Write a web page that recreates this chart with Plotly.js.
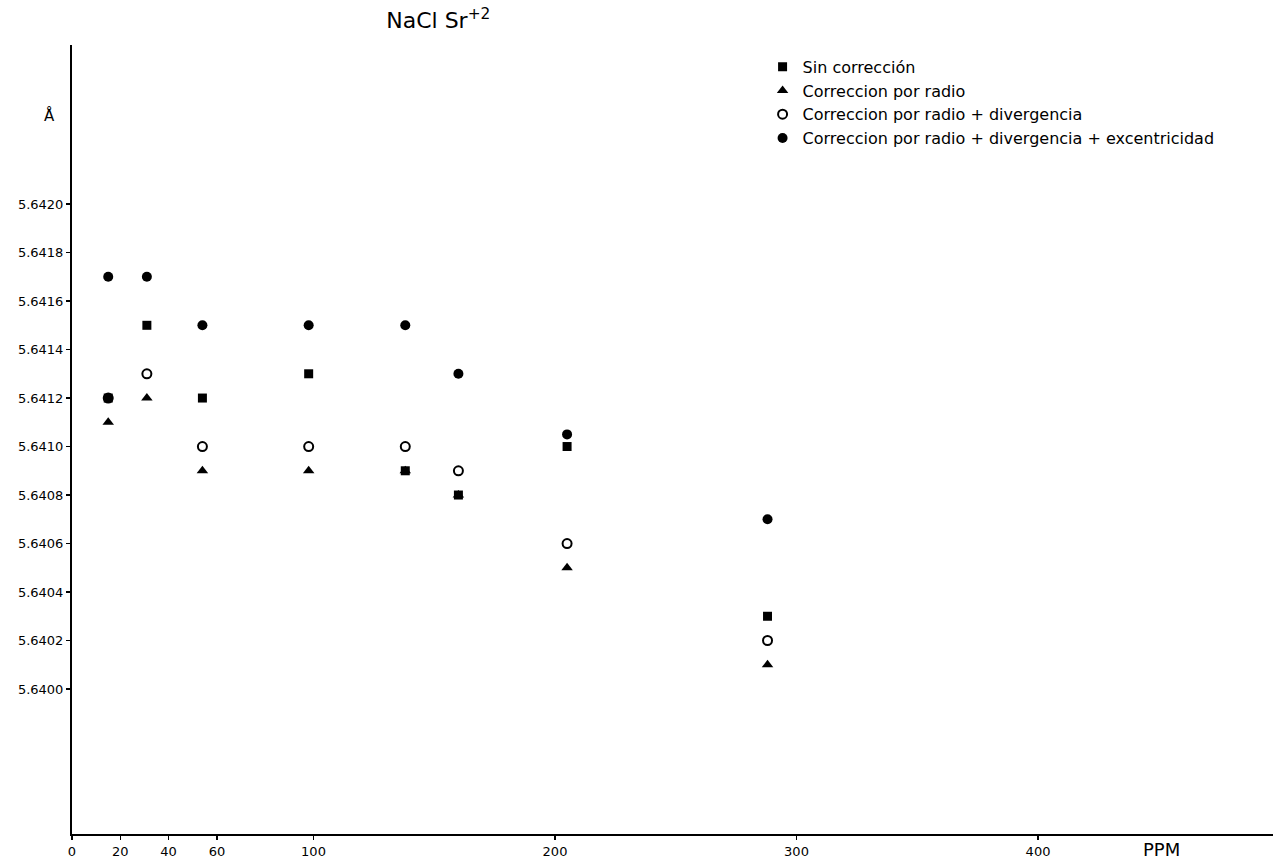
<!DOCTYPE html>
<html>
<head>
<meta charset="utf-8">
<script src="https://cdn.plot.ly/plotly-3.0.1.min.js"></script>
<style>
  html, body { margin: 0; padding: 0; background: #fff; }
  #chart { width: 1273px; height: 861px; }
</style>
</head>
<body>
<div id="chart"></div>
<script>
// Concentration of Sr+2 in NaCl (ppm)
const ppm = [15, 31, 54, 98, 138, 160, 205, 288];

// Lattice parameter (Å) for each correction stage
const sinCorreccion   = [5.6412, 5.6415, 5.6412, 5.6413, 5.6409, 5.6408, 5.6410, 5.6403];
const corrRadio       = [5.6411, 5.6412, 5.6409, 5.6409, 5.6409, 5.6408, 5.6405, 5.6401];
const corrRadioDiv    = [5.6412, 5.6413, 5.6410, 5.6410, 5.6410, 5.6409, 5.6406, 5.6402];
const corrRadioDivExc = [5.6417, 5.6417, 5.6415, 5.6415, 5.6415, 5.6413, 5.64105, 5.6407];

const seriesNames = [
  "Sin corrección",
  "Correccion por radio",
  "Correccion por radio + divergencia",
  "Correccion por radio + divergencia + excentricidad"
];

const xTickVals = [0, 20, 40, 60, 100, 200, 300, 400];
const xTickText = ["0", "20", "40", "60", "100", "200", "300", "400"];
const yTickVals = [5.6400, 5.6402, 5.6404, 5.6406, 5.6408, 5.6410, 5.6412, 5.6414, 5.6416, 5.6418, 5.6420];
const yTickText = ["5.6400", "5.6402", "5.6404", "5.6406", "5.6408", "5.6410", "5.6412", "5.6414", "5.6416", "5.6418", "5.6420"];

const markerStyles = [
  { symbol: "square", size: 9, color: "#000" },
  { symbol: "triangle-up", size: 10, color: "#000" },
  { symbol: "circle-open", size: 9, color: "#000", line: { width: 2, color: "#000" } },
  { symbol: "circle", size: 10, color: "#000" }
];

const seriesValues = [sinCorreccion, corrRadio, corrRadioDiv, corrRadioDivExc];

const traces = seriesValues.map((vals, i) => ({
  type: "scatter",
  mode: "markers",
  name: seriesNames[i],
  x: ppm,
  y: vals,
  marker: markerStyles[i],
  cliponaxis: false
}));

const font = "DejaVu Sans, Liberation Sans, sans-serif";

const layout = {
  width: 1273,
  height: 861,
  paper_bgcolor: "#fff",
  plot_bgcolor: "#fff",
  margin: { l: 72, r: 0, t: 45, b: 27 },
  font: { family: font, color: "#000", size: 12 },
  title: {
    text: "NaCl Sr<sup>+2</sup>",
    font: { family: font, size: 22, color: "#000" },
    xref: "paper",
    x: 0.305,
    xanchor: "center",
    yref: "container",
    y: 0.976,
    yanchor: "middle"
  },
  xaxis: {
    range: [0, 497.3],
    showgrid: false,
    zeroline: false,
    showline: true,
    linecolor: "#000",
    linewidth: 2,
    ticks: "outside",
    ticklen: 4,
    tickwidth: 1.5,
    tickcolor: "#000",
    tickmode: "array",
    tickvals: xTickVals,
    ticktext: xTickText,
    tickfont: { family: font, size: 13, color: "#000" }
  },
  yaxis: {
    range: [5.639402, 5.642656],
    showgrid: false,
    zeroline: false,
    showline: true,
    linecolor: "#000",
    linewidth: 2,
    ticks: "outside",
    ticklen: 4,
    tickwidth: 1.5,
    tickcolor: "#000",
    tickmode: "array",
    tickvals: yTickVals,
    ticktext: yTickText,
    tickfont: { family: font, size: 13, color: "#000" }
  },
  showlegend: true,
  legend: {
    x: 0.575,
    xanchor: "left",
    y: 0.994,
    yanchor: "top",
    yref: "paper",
    bgcolor: "rgba(0,0,0,0)",
    borderwidth: 0,
    tracegroupgap: 0,
    font: { family: font, size: 16, color: "#000" }
  },
  annotations: [
    {
      text: "Å",
      xref: "paper", yref: "paper",
      x: -0.019, y: 0.911,
      xanchor: "center", yanchor: "middle",
      showarrow: false,
      font: { family: font, size: 15, color: "#000" }
    },
    {
      text: "PPM",
      xref: "x", yref: "paper",
      x: 451, y: -0.02,
      xanchor: "center", yanchor: "middle",
      showarrow: false,
      font: { family: font, size: 18, color: "#000" }
    }
  ]
};

Plotly.newPlot("chart", traces, layout, { displayModeBar: false, staticPlot: true });
</script>
</body>
</html>
